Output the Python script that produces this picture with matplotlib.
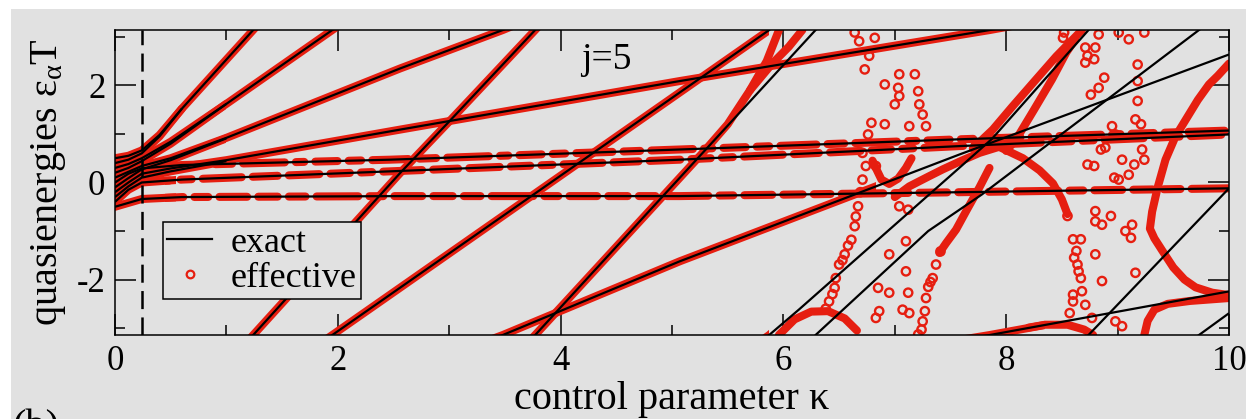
import numpy as np
import matplotlib
matplotlib.use("Agg")
import matplotlib.pyplot as plt
from matplotlib.patches import Rectangle
from matplotlib.lines import Line2D

# ---------------- data (quasienergies, unwrapped; shown modulo 2*pi) ----------------
L1A_K = [0, 0.12, 0.24, 0.4, 0.6, 1.24, 2.56, 3.0, 3.77, 4.92, 6.29, 7.3, 7.78, 9.73, 10.0]
L1A_E = [0.50, 0.55, 0.66, 0.98, 1.52, 3.14, 6.48, 7.54, 9.42, 12.29, 15.71, 17.85, 18.60, 21.99, 22.44]
L1B_K = [0, 0.12, 0.24, 0.4, 0.6]
L1B_E = [0.40, 0.47, 0.60, 0.95, 1.52]
L2A_K = [0, 0.12, 0.24, 0.5, 1.0, 1.95, 5.87, 6.14, 7.58, 7.87, 8.74, 10.0]
L2A_E = [0.30, 0.38, 0.50, 0.84, 1.62, 3.14, 9.42, 9.95, 12.87, 13.46, 15.71, 18.73]
L2B_K = [0, 0.12, 0.24, 0.5, 1.0]
L2B_E = [0.20, 0.30, 0.44, 0.80, 1.62]
L3A_K = [0, 0.12, 0.24, 0.5, 1.0, 2.56, 3.48, 5.07, 7.58, 10.0]
L3A_E = [0.10, 0.22, 0.34, 0.50, 0.92, 2.35, 3.14, 4.66, 6.86, 8.92]
L3B_K = [0, 0.12, 0.24, 0.5, 1.0]
L3B_E = [-0.10, 0.09, 0.27, 0.46, 0.91]
L4A_K = [0, 0.12, 0.24, 0.5, 1.0, 2.56, 5.07, 7.85, 10.0]
L4A_E = [-0.20, 0.00, 0.18, 0.29, 0.46, 1.09, 2.09, 3.14, 4.04]
L4B_K = [0, 0.12, 0.24, 0.5, 1.0]
L4B_E = [-0.30, -0.08, 0.10, 0.23, 0.44]
F1_K = [0, 0.12, 0.24, 0.6, 2.47, 5.07, 7.58, 10.0]
F1_E = [0.00, 0.18, 0.29, 0.36, 0.47, 0.68, 0.89, 1.07]
F2_K = [0, 0.12, 0.24, 0.6, 2.47, 5.07, 7.58, 10.0]
F2_E = [-0.40, -0.15, 0.00, 0.06, 0.23, 0.47, 0.75, 0.99]
F3_K = [0, 0.12, 0.24, 0.6, 2.56, 5.07, 7.58, 10.0]
F3_E = [-0.50, -0.42, -0.34, -0.30, -0.28, -0.28, -0.20, -0.12]

# kappa ranges in which the effective result coincides with the exact one
FOLLOW_L1A = (0.0, 5.28)
FOLLOW_L2A = (0.0, 5.87)
FOLLOW_L3A = (0.0, 6.83)
FOLLOW_L4A = (0.0, 8.35)
FOLLOW_SHORT = (0.0, 1.0)
FOLLOW_FLAT_SOLID = (0.0, 0.55)
FOLLOW_FLAT_DASHED = (0.45, 10.0)

# effective branches that deviate from the exact ones (wrapped values)
E1A_K = [5.28, 5.5, 5.7, 5.85, 5.96]
E1A_E = [0.62, 1.20, 1.90, 2.50, 3.14]
E1B_K = [5.7, 5.9, 6.05, 6.17]
E1B_E = [1.90, 2.45, 2.80, 3.14]
E2_K = [5.96, 6.1, 6.25, 6.4, 6.55, 6.66]
E2_E = [-3.14, -2.82, -2.66, -2.65, -2.80, -3.05]
E4_K = [6.8, 6.84, 6.88, 6.95, 7.03, 7.1, 7.15]
E4_E = [0.45, 0.25, 0.06, -0.03, 0.08, 0.30, 0.50]
E5_K = [7.0, 7.13, 7.3, 7.43, 7.6, 7.76, 8.0]
E5_E = [-0.30, -0.08, 0.12, 0.27, 0.45, 0.61, 0.78]
E6A_K = [7.7, 7.88, 8.05, 8.24, 8.45, 8.68]
E6A_E = [0.70, 1.09, 1.55, 2.05, 2.60, 3.14]
E6B_K = [8.0, 8.09, 8.25, 8.41, 8.54, 8.62]
E6B_E = [0.65, 0.89, 1.50, 2.12, 2.68, 2.95]
E7_K = [7.95, 8.15, 8.3, 8.42, 8.5, 8.55]
E7_E = [0.72, 0.50, 0.25, -0.02, -0.35, -0.65]
E8_K = [7.4, 7.46, 7.55, 7.65, 7.76, 7.85]
E8_E = [-1.45, -1.25, -0.97, -0.55, -0.10, 0.30]
E9_K = [10.0, 9.9, 9.82, 9.72, 9.64, 9.52, 9.43, 9.36, 9.31, 9.29, 9.33, 9.4, 9.5, 9.6, 9.7, 9.85, 10.0]
E9_E = [2.45, 2.20, 2.02, 1.70, 1.40, 0.95, 0.47, -0.10, -0.60, -0.95, -1.15, -1.40, -1.75, -2.00, -2.16, -2.27, -2.32]
E10_K = [9.24, 9.27, 9.33, 9.45, 9.65, 10.0]
E10_E = [-3.14, -2.85, -2.62, -2.50, -2.44, -2.38]
E11_K = [8.2, 8.35, 8.55, 8.7, 8.78]
E11_E = [-2.99, -2.93, -2.93, -3.03, -3.14]

# isolated effective points
PTS_K = [6.64, 6.68, 6.82, 6.77, 6.73, 6.91, 7.04, 7.18, 7.03, 7.04, 7.00, 7.21, 7.22, 7.25, 7.28,
         6.79, 6.91, 7.13, 6.76, 6.71, 6.74, 6.83, 6.71, 6.67, 6.64, 6.61, 7.04, 7.12, 7.10, 6.95,
         7.10, 6.85, 6.95, 7.12, 7.07, 6.86, 6.83, 7.13, 7.28, 7.27, 7.25, 7.24, 7.21, 6.55, 6.50,
         6.47, 6.46, 6.41, 7.41, 7.37, 7.34, 6.58, 6.53, 6.44, 6.38, 6.69, 6.65, 7.30, 7.32,
         8.51, 8.52, 8.71, 8.80, 8.73, 8.79, 8.71, 8.83, 9.01, 9.10, 9.24, 9.18, 8.88, 8.83, 8.76,
         9.18, 9.18, 9.16, 9.21, 8.95, 8.98, 8.85, 8.89, 9.22, 9.24, 9.15, 9.04, 8.73, 8.79, 9.10,
         9.01, 8.97, 8.80, 8.86, 8.94, 8.80, 8.55, 9.07, 9.13, 9.12, 8.80, 8.86, 8.60, 8.67, 8.63,
         8.61, 8.64, 8.65, 8.67, 8.68, 8.60, 8.60, 8.57, 8.71, 8.77, 8.98, 9.04, 9.16]
PTS_E = [3.09, 2.91, 2.98, 2.61, 2.33, 2.02, 2.23, 2.23, 1.95, 1.78, 1.61, 1.88, 1.61, 1.40, 1.16,
         1.23, 1.20, 1.16, 0.99, 0.61, 0.34, 0.34, 0.06, -0.49, -0.90, -1.18, -0.49, -0.56, -1.21, -1.48,
         -1.83, -2.17, -2.27, -2.27, -2.62, -2.65, -2.79, -2.69, -2.38, -2.65, -2.86, -3.03, -3.13, -1.48, -1.69,
         -1.97, -2.17, -2.45, -1.42, -1.69, -1.97, -1.30, -1.60, -2.30, -2.60, -0.20, -0.70, -2.15, -2.05,
         2.98, 3.09, 2.78, 2.78, 2.61, 2.54, 2.47, 3.05, 3.09, 2.95, 3.09, 2.43, 2.16, 1.95, 1.81,
         2.09, 1.68, 1.30, 1.20, 1.16, 0.99, 0.68, 0.72, 0.68, 0.47, 0.37, 0.47, 0.37, 0.34, 0.16,
         0.06, 0.10, -0.59, -0.87, -0.69, -0.80, -0.69, -1.00, -0.87, -1.14, -1.48, -2.03, -1.17, -1.17, -1.41,
         -1.55, -1.69, -1.83, -1.97, -2.24, -2.31, -2.45, -2.69, -2.52, -2.79, -2.86, -2.96, -1.86]

KAPPA_MARK = 0.24
X_TICKS = [0, 2, 4, 6, 8, 10]
Y_TICKS = [-2, 0, 2]

# ---------------- style ----------------
RED = "#e61e10"
GRAY = "#e1e1e1"
TWO_PI = 2 * np.pi
plt.rcParams["font.family"] = ["Liberation Serif", "DejaVu Serif"]
plt.rcParams["mathtext.fontset"] = "custom"
plt.rcParams["mathtext.rm"] = "Liberation Serif"
plt.rcParams["mathtext.it"] = "Liberation Serif"
plt.rcParams["axes.unicode_minus"] = False
plt.rcParams["lines.scale_dashes"] = False

fig = plt.figure(figsize=(12.46, 4.19), dpi=100, facecolor="white")
fig.add_artist(Rectangle((11 / 1246, 0), 1, 1 - 9 / 419, transform=fig.transFigure,
                         facecolor=GRAY, edgecolor="none", zorder=-10))
ax = fig.add_axes([115 / 1246, 84 / 419, 1114 / 1246, 305 / 419])
ax.set_facecolor(GRAY)
ax.set_xlim(0, 10)
ax.set_ylim(-np.pi, np.pi)

SHIFTS = range(-4, 2)
BAND_LW = 5.8


def draw_exact(k, e):
    e = np.asarray(e)
    for n in SHIFTS:
        ax.plot(k, e + n * TWO_PI, color="black", lw=1.6, zorder=3,
                solid_capstyle="butt")


def draw_follow(k, e, rng, dashes=None):
    e = np.asarray(e)
    for n in SHIFTS:
        kw = dict(color=RED, lw=BAND_LW, zorder=2, solid_capstyle="round",
                  dash_capstyle="round", solid_joinstyle="round")
        if dashes is not None:
            kw["dashes"] = dashes
        ln, = ax.plot(k, e + n * TWO_PI, **kw)
        clip = Rectangle((rng[0], -np.pi), rng[1] - rng[0], TWO_PI, transform=ax.transData)
        ln.set_clip_path(clip)


def draw_band(k, e):
    ax.plot(k, e, color=RED, lw=BAND_LW, zorder=2, solid_capstyle="round",
            solid_joinstyle="round")


# effective (red)
draw_follow(L1A_K, L1A_E, FOLLOW_L1A)
draw_follow(L2A_K, L2A_E, FOLLOW_L2A)
draw_follow(L3A_K, L3A_E, FOLLOW_L3A)
draw_follow(L4A_K, L4A_E, FOLLOW_L4A)
for kk, ee in [(L1B_K, L1B_E), (L2B_K, L2B_E), (L3B_K, L3B_E), (L4B_K, L4B_E)]:
    draw_follow(kk, ee, FOLLOW_SHORT)
flat_dashes = [[16, 8, 9, 8, 26, 8, 12, 8, 30, 8, 6, 8],
               [22, 8, 14, 8, 8, 8, 28, 8, 18, 8],
               [12, 8, 30, 8, 10, 8, 20, 8, 14, 8]]
for (kk, ee), ds in zip([(F1_K, F1_E), (F2_K, F2_E), (F3_K, F3_E)], flat_dashes):
    draw_follow(kk, ee, FOLLOW_FLAT_SOLID)
    draw_follow(kk, ee, FOLLOW_FLAT_DASHED, dashes=ds)
for kk, ee in [(E1A_K, E1A_E), (E1B_K, E1B_E), (E2_K, E2_E), (E4_K, E4_E), (E5_K, E5_E),
               (E6A_K, E6A_E), (E6B_K, E6B_E), (E7_K, E7_E), (E8_K, E8_E), (E9_K, E9_E),
               (E10_K, E10_E), (E11_K, E11_E)]:
    draw_band(kk, ee)
ax.scatter(PTS_K, PTS_E, s=36, facecolors="none", edgecolors=RED, linewidths=1.7, zorder=2)

# exact (black)
for kk, ee in [(L1A_K, L1A_E), (L1B_K, L1B_E), (L2A_K, L2A_E), (L2B_K, L2B_E),
               (L3A_K, L3A_E), (L3B_K, L3B_E), (L4A_K, L4A_E), (L4B_K, L4B_E),
               (F1_K, F1_E), (F2_K, F2_E), (F3_K, F3_E)]:
    draw_exact(kk, ee)

ax.axvline(KAPPA_MARK, color="black", lw=1.8, dashes=(13, 6), zorder=4)

# axes cosmetics
ax.set_xticks(X_TICKS)
ax.set_xticks([1, 3, 5, 7, 9], minor=True)
ax.set_yticks(Y_TICKS)
ax.set_yticks([-3, -1, 1, 3], minor=True)
ax.tick_params(which="both", direction="in", top=True, right=True, width=1.1, labelsize=25)
ax.tick_params(which="major", length=15, pad=7)
ax.tick_params(which="minor", length=7)
for sp in ax.spines.values():
    sp.set_linewidth(1.1)
ax.set_xlabel("control parameter κ", fontsize=29, labelpad=2)
ax.set_ylabel("quasienergies $ε_α$T", fontsize=29, labelpad=6)
ax.text(4.41, 2.33, "j=5", fontsize=27, ha="center", va="baseline", zorder=5)

handles = [Line2D([], [], color="black", lw=1.6),
           Line2D([], [], ls="none", marker="o", mfc="none", mec=RED, ms=5.5, mew=1.6)]
leg = ax.legend(handles, ["exact", "effective"], loc="upper left",
                bbox_to_anchor=(0.043, 0.370), borderaxespad=0, fontsize=26,
                frameon=True, fancybox=False, edgecolor="black", facecolor=GRAY,
                framealpha=1, handlelength=1.25, handletextpad=0.5, labelspacing=0.05,
                borderpad=0.12)
leg.get_frame().set_linewidth(1.1)
leg.set_zorder(6)

fig.text(12 / 1246, 1 - 409 / 419, "(b)", fontsize=29, va="top")

fig.savefig("out.png", dpi=100, facecolor=fig.get_facecolor())
